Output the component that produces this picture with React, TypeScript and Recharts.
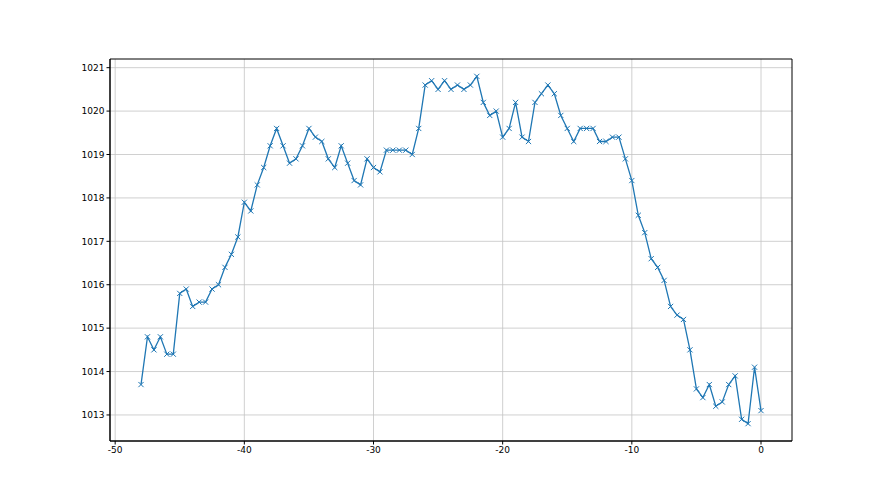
import React from "react";
import { LineChart, Line, XAxis, YAxis, CartesianGrid, ReferenceArea } from "recharts";

const hours: number[] = [
  -48, -47.5, -47, -46.5, -46, -45.5, -45, -44.5, -44, -43.5, -43, -42.5, -42, -41.5, -41, -40.5,
  -40, -39.5, -39, -38.5, -38, -37.5, -37, -36.5, -36, -35.5, -35, -34.5, -34, -33.5, -33, -32.5,
  -32, -31.5, -31, -30.5, -30, -29.5, -29, -28.5, -28, -27.5, -27, -26.5, -26, -25.5, -25, -24.5,
  -24, -23.5, -23, -22.5, -22, -21.5, -21, -20.5, -20, -19.5, -19, -18.5, -18, -17.5, -17, -16.5,
  -16, -15.5, -15, -14.5, -14, -13.5, -13, -12.5, -12, -11.5, -11, -10.5, -10, -9.5, -9, -8.5,
  -8, -7.5, -7, -6.5, -6, -5.5, -5, -4.5, -4, -3.5, -3, -2.5, -2, -1.5, -1, -0.5, 0,
];

const pressure: number[] = [
  1013.7, 1014.8, 1014.5, 1014.8, 1014.4, 1014.4, 1015.8, 1015.9, 1015.5, 1015.6, 1015.6, 1015.9, 1016.0, 1016.4, 1016.7, 1017.1,
  1017.9, 1017.7, 1018.3, 1018.7, 1019.2, 1019.6, 1019.2, 1018.8, 1018.9, 1019.2, 1019.6, 1019.4, 1019.3, 1018.9, 1018.7, 1019.2,
  1018.8, 1018.4, 1018.3, 1018.9, 1018.7, 1018.6, 1019.1, 1019.1, 1019.1, 1019.1, 1019.0, 1019.6, 1020.6, 1020.7, 1020.5, 1020.7,
  1020.5, 1020.6, 1020.5, 1020.6, 1020.8, 1020.2, 1019.9, 1020.0, 1019.4, 1019.6, 1020.2, 1019.4, 1019.3, 1020.2, 1020.4, 1020.6,
  1020.4, 1019.9, 1019.6, 1019.3, 1019.6, 1019.6, 1019.6, 1019.3, 1019.3, 1019.4, 1019.4, 1018.9, 1018.4, 1017.6, 1017.2, 1016.6,
  1016.4, 1016.1, 1015.5, 1015.3, 1015.2, 1014.5, 1013.6, 1013.4, 1013.7, 1013.2, 1013.3, 1013.7, 1013.9, 1012.9, 1012.8, 1014.1, 1013.1,
];

const xTicks: number[] = [-50, -40, -30, -20, -10, 0];
const yTicks: number[] = [1013, 1014, 1015, 1016, 1017, 1018, 1019, 1020, 1021];

const X_DOMAIN: [number, number] = [-50.4, 2.4];
const Y_DOMAIN: [number, number] = [1012.4, 1021.2];

const data = hours.map((h, i) => ({ x: h, y: pressure[i] }));

const XMark = (props: any) => {
  const { cx, cy } = props;
  if (cx == null || cy == null) return null;
  const r = 2.6;
  return (
    <g>
      <line x1={cx - r} y1={cy - r} x2={cx + r} y2={cy + r} stroke="#1f77b4" strokeWidth={1} />
      <line x1={cx - r} y1={cy + r} x2={cx + r} y2={cy - r} stroke="#1f77b4" strokeWidth={1} />
    </g>
  );
};

const tickStyle = { fontSize: 9, fill: "#000", fontFamily: "DejaVu Sans" };

export default function App() {
  return (
    <div style={{ position: "absolute", left: 0, top: 0, width: 880, height: 495, background: "#fff" }}>
      <LineChart
        width={880}
        height={495}
        data={data}
        margin={{ top: 59, right: 88, bottom: 24, left: 60 }}
      >
        <CartesianGrid stroke="#c4c4c4" strokeWidth={0.8} horizontalValues={yTicks} verticalValues={xTicks} />
        <XAxis
          dataKey="x"
          type="number"
          domain={X_DOMAIN}
          ticks={xTicks}
          allowDataOverflow
          height={30}
          tick={tickStyle}
          tickSize={3.5}
          tickLine={{ stroke: "#000" }}
          axisLine={{ stroke: "#000" }}
          interval={0}
        />
        <YAxis
          type="number"
          domain={Y_DOMAIN}
          ticks={yTicks}
          allowDataOverflow
          width={50}
          tick={tickStyle}
          tickSize={3.5}
          tickLine={{ stroke: "#000" }}
          axisLine={{ stroke: "#000" }}
          interval={0}
        />
        <ReferenceArea
          x1={X_DOMAIN[0]}
          x2={X_DOMAIN[1]}
          y1={Y_DOMAIN[0]}
          y2={Y_DOMAIN[1]}
          fill="none"
          fillOpacity={0}
          stroke="#000"
          strokeWidth={1}
          ifOverflow="visible"
        />
        <Line
          dataKey="y"
          stroke="#1f77b4"
          strokeWidth={1.3}
          dot={<XMark />}
          activeDot={false}
          isAnimationActive={false}
        />
      </LineChart>
    </div>
  );
}
